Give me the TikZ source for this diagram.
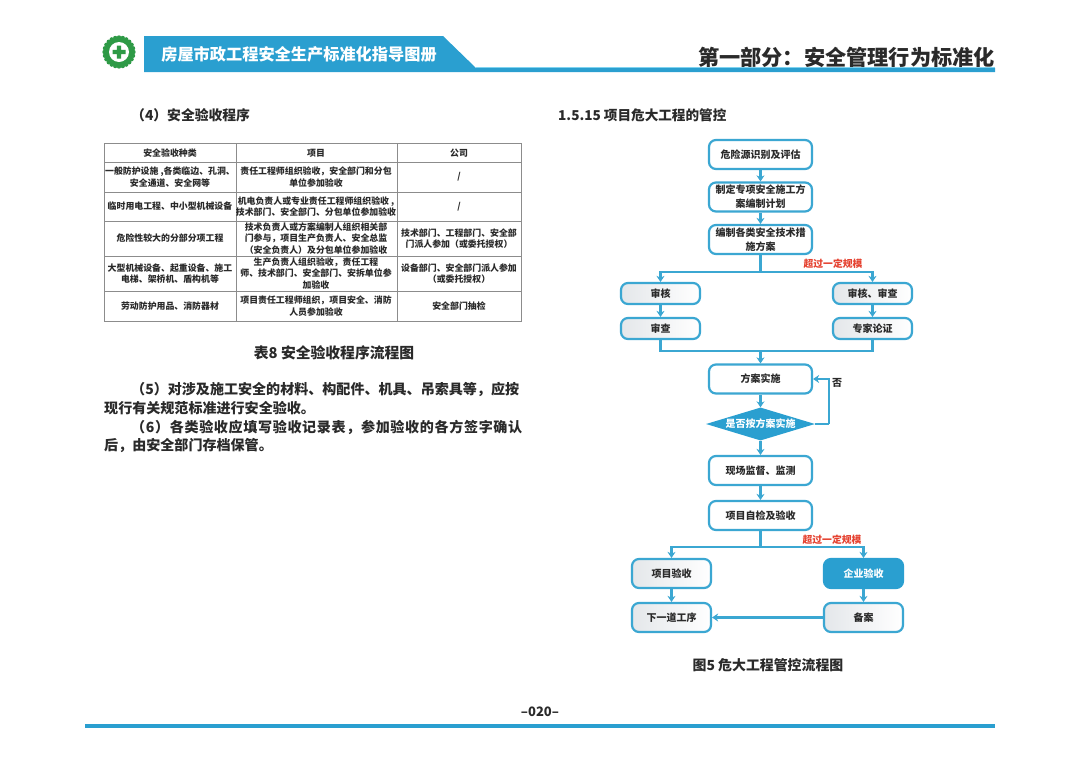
\documentclass[tikz,border=0pt]{standalone}
\usepackage{fontspec}
\usepackage{xcolor}
\usepackage{tikz}
\usetikzlibrary{arrows.meta,shapes.geometric}
\setmainfont{Noto Sans CJK SC}
\definecolor{flow}{HTML}{3BA7D2}
\definecolor{band}{HTML}{2A9FD0}
\definecolor{bandlite}{HTML}{7FD3F0}
\definecolor{grid}{HTML}{8C8C8C}
\definecolor{ink}{HTML}{2A2A2A}
\definecolor{alert}{HTML}{E5412F}
\definecolor{logo}{HTML}{2E9A46}
\definecolor{shadec}{HTML}{E4E7EA}
\newcommand{\zcomma}{\char"FF0C\relax}
\newcommand{\zcolon}{\char"FF1A\relax}
\newcommand{\zopen}{\char"FF08\relax}
\newcommand{\zclose}{\char"FF09\relax}
\tikzset{
  flowbox/.style={draw=flow, line width=2.2pt, rounded corners=7pt, fill=white, minimum width=103pt, minimum height=29pt, inner sep=0pt, align=center, text=ink, font=\fontsize{10}{14}\selectfont\bfseries},
  sidebox/.style={flowbox, minimum width=79pt, minimum height=21pt, left color=shadec, right color=white},
  lowbox/.style={sidebox, minimum height=29pt},
  flowline/.style={draw=flow, line width=2.2pt},
  flowarrow/.style={flowline, -{Stealth[length=6pt,width=8pt]}},
  cell/.style={align=center, inner sep=0pt, text=ink, font=\fontsize{8.9}{11.6}\selectfont\bfseries},
  hline/.style={draw=grid, line width=0.9pt},
  para/.style={anchor=west, inner sep=0pt, text=ink, font=\fontsize{14.05}{19}\selectfont\bfseries},
  note/.style={inner sep=0pt, text=alert, font=\fontsize{9.8}{12}\selectfont\bfseries}
}

\begin{document}
\begin{tikzpicture}[x=1pt,y=-1pt]
  \useasboundingbox (0,0) rectangle (1080,764);
  \fill[white] (0,0) rectangle (1080,764);

  % header
  \fill[band] (144,36) -- (443,36) -- (476,68) -- (995,68) -- (995,72) -- (144,72) -- cycle;
  \draw[bandlite, line width=0.8pt] (476,67.5) -- (995,67.5);
  \node[text=white, inner sep=0pt, font=\fontsize{16.2}{18}\selectfont\bfseries] (booktitle) at (299,54) {房屋市政工程安全生产标准化指导图册};
  \node[anchor=east, text=ink, inner sep=0pt, font=\fontsize{21.2}{24}\selectfont\bfseries] (parttitle) at (995,57) {第一部分\zcolon 安全管理行为标准化};
  \foreach \a in {0,15,...,345} \fill[logo] (119,52)+(\a:14.5) circle (2.2);
  \fill[logo] (119,52) circle (14.5);
  \fill[white] (119,52) circle (10);
  \fill[logo] (116.8,45.5) rectangle (121.2,58.5) (112.5,49.8) rectangle (125.5,54.2);

  % left page
  \node[para, font=\fontsize{13.8}{16}\selectfont\bfseries] (sub4) at (131,115) {\zopen 4\zclose 安全验收程序};
  \draw[hline] (104,143) rectangle (521,321);
  \draw[hline] (104,162) -- (521,162) (104,192) -- (521,192) (104,221) -- (521,221) (104,256) -- (521,256) (104,291) -- (521,291);
  \draw[hline] (236,143) -- (236,321) (397,143) -- (397,321);
  \node[cell] (c11) at (170,153) {安全验收种类};
  \node[cell] (c12) at (316,153) {项目};
  \node[cell] (c13) at (459,153) {公司};
  \node[cell] (c21) at (170,177) {一般防护设施 ,各类临边、孔洞、\\安全通道、安全网等};
  \node[cell] (c22) at (316,177) {责任工程师组织验收\zcomma 安全部门和分包\\单位参加验收};
  \node[cell] (c23) at (459,177) {/};
  \node[cell] (c31) at (170,206.5) {临时用电工程、中小型机械设备};
  \node[cell] (c32) at (316,206.5) {机电负责人或专业责任工程师组织验收 ,\\技术部门、安全部门、分包单位参加验收};
  \node[cell] (c33) at (459,206.5) {/};
  \node[cell] (c41) at (170,238.5) {危险性较大的分部分项工程};
  \node[cell] (c42) at (316,238.5) {技术负责人或方案编制人组织相关部\\门参与\zcomma 项目生产负责人、安全总监\\\zopen 安全负责人\zclose 及分包单位参加验收};
  \node[cell] (c43) at (459,238.5) {技术部门、工程部门、安全部\\门派人参加\zopen 或委托授权\zclose};
  \node[cell] (c51) at (170,273.5) {大型机械设备、起重设备、施工\\电梯、架桥机、盾构机等};
  \node[cell] (c52) at (316,273.5) {生产负责人组织验收\zcomma 责任工程\\师、技术部门、安全部门、安拆单位参\\加验收};
  \node[cell] (c53) at (459,273.5) {设备部门、安全部门派人参加\\\zopen 或委托授权\zclose};
  \node[cell] (c61) at (170,306) {劳动防护用品、消防器材};
  \node[cell] (c62) at (316,306) {项目责任工程师组织\zcomma 项目安全、消防\\人员参加验收};
  \node[cell] (c63) at (459,306) {安全部门抽检};
  \node[para, anchor=center, font=\fontsize{14.8}{16}\selectfont\bfseries] (tabcap) at (334,353) {表8 安全验收程序流程图};
  \node[para] (line5a) at (131,389) {\zopen 5\zclose 对涉及施工安全的材料、构配件、机具、吊索具等\zcomma 应按};
  \node[para] (line5b) at (104,408) {现行有关规范标准进行安全验收。};
  \node[para] (line6a) at (131,427) {\addfontfeature{LetterSpace=4.7}\zopen 6\zclose 各类验收应填写验收记录表\zcomma 参加验收的各方签字确认};
  \node[para] (line6b) at (104,446) {后\zcomma 由安全部门存档保管。};

  % right page
  \node[para, font=\fontsize{13.6}{16}\selectfont\bfseries] (sec) at (558,115) {1.5.15 项目危大工程的管控};
  \node[flowbox] (shibie) at (760.5,154.5) {危险源识别及评估};
  \node[flowbox] (zhiding) at (760.5,197) {制定专项安全施工方\\案编制计划};
  \node[flowbox] (bianzhi) at (760.5,239.5) {编制各类安全技术措\\施方案};
  \node[sidebox] (shenhe) at (660.5,293.5) {审核};
  \node[sidebox] (shencha) at (660.5,328.5) {审查};
  \node[sidebox] (shenheb) at (872.5,293.5) {审核、审查};
  \node[sidebox] (lunzheng) at (872.5,328.5) {专家论证};
  \node[flowbox] (shishi) at (760.5,379) {方案实施};
  \node[diamond, fill=band, text=white, inner sep=0pt, shape aspect=3.3, minimum width=109pt, minimum height=33pt, font=\fontsize{10}{12}\selectfont\bfseries] (panduan) at (760.5,424) {是否按方案实施};
  \node[flowbox] (jiandu) at (760.5,470.5) {现场监督、监测};
  \node[flowbox] (zijian) at (760.5,515.5) {项目自检及验收};
  \node[lowbox] (xmys) at (671.5,573.5) {项目验收};
  \node[lowbox, left color=band, right color=band, draw=band, text=white] (qyys) at (863.5,573.5) {企业验收};
  \node[lowbox] (xiayi) at (671.5,617.5) {下一道工序};
  \node[lowbox] (beian) at (863.5,617.5) {备案};
  \node[note] (noteA) at (833,264) {超过一定规模};
  \node[note] (noteB) at (832,540) {超过一定规模};
  \node[inner sep=0pt, text=ink, font=\fontsize{10}{12}\selectfont\bfseries] (fou) at (837,383) {否};
  \node[para, anchor=center, font=\fontsize{13.9}{16}\selectfont\bfseries] (figcap) at (768,665) {图5 危大工程管控流程图};

  \coordinate (splitA) at (760.5,272);
  \coordinate (mergeA) at (760.5,351);
  \coordinate (backA) at (829,424);
  \coordinate (splitB) at (760.5,547);

  \draw[flowarrow] (shibie) -- (zhiding);
  \draw[flowarrow] (zhiding) -- (bianzhi);
  \draw[flowline] (bianzhi) -- (splitA);
  \draw[flowarrow] (splitA) -| (shenhe);
  \draw[flowarrow] (splitA) -| (shenheb);
  \draw[flowarrow] (shenhe) -- (shencha);
  \draw[flowarrow] (shenheb) -- (lunzheng);
  \draw[flowline] (shencha) |- (mergeA);
  \draw[flowline] (lunzheng) |- (mergeA);
  \draw[flowarrow] (mergeA) -- (shishi);
  \draw[flowarrow] (shishi) -- (panduan);
  \draw[flowline] (panduan.east) -- (backA);
  \draw[flowarrow] (backA) |- (shishi.east);
  \draw[flowarrow] (panduan) -- (jiandu);
  \draw[flowarrow] (jiandu) -- (zijian);
  \draw[flowline] (zijian) -- (splitB);
  \draw[flowarrow] (splitB) -| (xmys);
  \draw[flowarrow] (splitB) -| (qyys);
  \draw[flowarrow] (xmys) -- (xiayi);
  \draw[flowarrow] (qyys) -- (beian);
  \draw[flowarrow] (beian) -- (xiayi);

  % footer
  \node[inner sep=0pt, text=ink, font=\fontsize{13}{14}\selectfont\bfseries] (pageno) at (540,712) {–020–};
  \fill[band] (85,724) rectangle (995,728);
\end{tikzpicture}
\end{document}
